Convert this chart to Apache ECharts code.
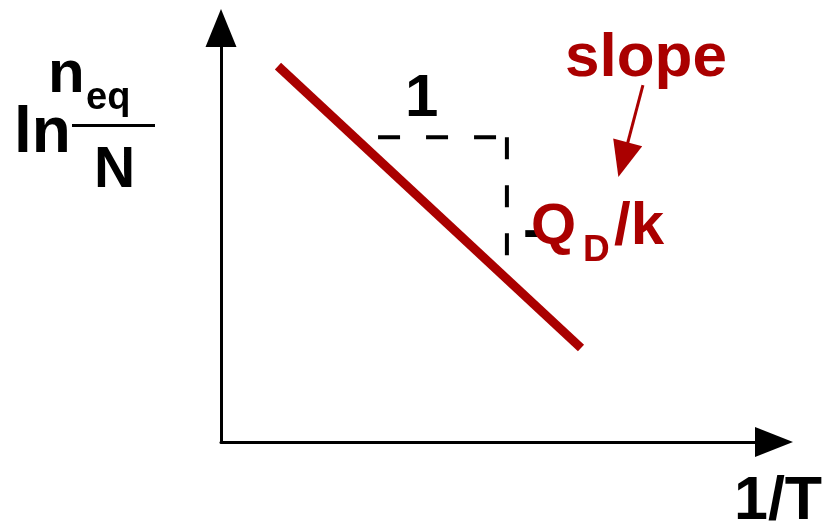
<!DOCTYPE html>
<html>
<head>
<meta charset="utf-8">
<script src="https://cdn.jsdelivr.net/npm/echarts@6/dist/echarts.min.js"></script>
<style>
  html, body { margin: 0; padding: 0; background: #ffffff; }
  #chart { width: 828px; height: 531px; }
</style>
</head>
<body>
<div id="chart"></div>
<script>
// Arrhenius-type plot: ln(n_eq/N) against 1/T, schematic units 0..10 on both axes
const axisRange = [0, 10];

// straight line of the plot
const lineX = [1.03, 6.51];
const lineY = [9.08, 2.27];

// slope triangle: run of 1 and the corresponding drop
const runX = [2.84, 5.17];
const runY = [7.36, 7.36];
const riseX = [5.17, 5.17];
const riseY = [7.36, 4.49];

// pointer from the "slope" caption
const pointerX = [7.63, 7.29];
const pointerY = [8.62, 6.90];
const pointerHead = [7.27, 6.82];

const RED = '#aa0000';
const FONT = '"Liberation Sans", Arial, sans-serif';

function pairs(xs, ys) {
  return xs.map((x, i) => [x, ys[i]]);
}

const chart = echarts.init(document.getElementById('chart'), null, { renderer: 'canvas' });

// text placed by its baseline (bottom of the line box sits ~0.21em below it)
function txt(text, x, baseline, size, color) {
  return {
    type: 'text',
    z: 10,
    style: {
      text: text, x: x, y: baseline + 0.21 * size,
      font: 'bold ' + size + 'px ' + FONT,
      fill: color,
      textAlign: 'left',
      textVerticalAlign: 'bottom'
    }
  };
}

const axisCommon = {
  type: 'value',
  min: axisRange[0],
  max: axisRange[1],
  axisTick: { show: false },
  axisLabel: { show: false },
  splitLine: { show: false }
};

chart.setOption({
  animation: false,
  backgroundColor: '#ffffff',
  grid: { left: 221, right: 54, top: 28, bottom: 89, containLabel: false },
  xAxis: Object.assign({}, axisCommon, {
    axisLine: {
      show: true,
      symbol: ['none', 'triangle'],
      symbolSize: [30, 38],
      lineStyle: { color: '#000', width: 3 }
    }
  }),
  yAxis: Object.assign({}, axisCommon, {
    axisLine: {
      show: true,
      symbol: ['none', 'triangle'],
      symbolSize: [31, 38],
      lineStyle: { color: '#000', width: 3 }
    }
  }),
  series: [
    {
      type: 'line',
      data: pairs(lineX, lineY),
      symbol: 'none',
      lineStyle: { color: RED, width: 9, cap: 'butt' },
      z: 3
    },
    {
      type: 'line',
      data: pairs(runX, runY),
      symbol: 'none',
      lineStyle: { color: '#000', width: 4, type: [22, 26], cap: 'butt' },
      z: 2
    },
    {
      type: 'line',
      data: pairs(riseX, riseY),
      symbol: 'none',
      lineStyle: { color: '#000', width: 4, type: [22, 26], cap: 'butt' },
      z: 2
    },
    {
      type: 'line',
      data: pairs(pointerX, pointerY),
      symbol: 'none',
      lineStyle: { color: RED, width: 3 },
      z: 3
    },
    {
      type: 'scatter',
      data: [pointerHead],
      symbol: 'triangle',
      symbolSize: [30, 36],
      symbolRotate: 165,
      itemStyle: { color: RED, opacity: 1 },
      z: 4
    }
  ],
  graphic: [
    // y-axis title: ln (n_eq / N)
    txt('ln', 14, 153, 64, '#000'),
    txt('n', 48, 93, 60, '#000'),
    txt('eq', 86, 110, 38, '#000'),
    {
      type: 'line', z: 10,
      shape: { x1: 72, y1: 125.5, x2: 155, y2: 125.5 },
      style: { stroke: '#000', lineWidth: 3 }
    },
    txt('N', 94, 188, 57, '#000'),
    // x-axis title
    txt('1/T', 734, 520, 61, '#000'),
    // slope triangle labels
    txt('1', 405, 117, 60, '#000'),
    txt('-', 523, 250, 58, '#000'),
    txt('Q', 531, 245, 58, RED),
    txt('D', 583, 262, 37, RED),
    txt('/k', 614, 245, 60, RED),
    txt('slope', 565, 77, 62, RED)
  ]
});
</script>
</body>
</html>
